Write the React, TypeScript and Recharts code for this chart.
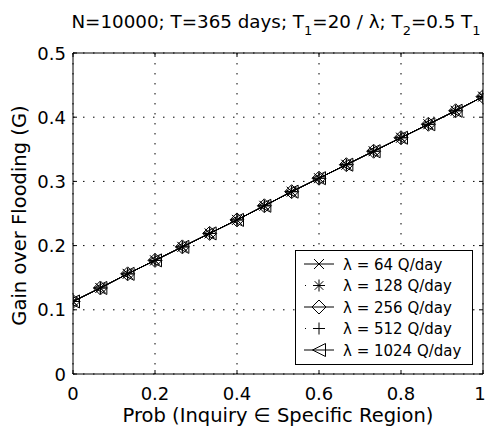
import React from 'react';
import { LineChart, Line, XAxis, YAxis, CartesianGrid, Legend } from 'recharts';

// ---- data ----
const probValues = [0, 0.0667, 0.1333, 0.2, 0.2667, 0.3333, 0.4, 0.4667, 0.5333, 0.6, 0.6667, 0.7333, 0.8, 0.8667, 0.9333, 1];
const gain64 = [0.113, 0.134, 0.156, 0.177, 0.198, 0.219, 0.240, 0.262, 0.284, 0.305, 0.326, 0.347, 0.368, 0.389, 0.410, 0.432];
const gain128 = [0.113, 0.134, 0.156, 0.177, 0.198, 0.219, 0.240, 0.262, 0.284, 0.305, 0.326, 0.347, 0.368, 0.389, 0.410, 0.432];
const gain256 = [0.113, 0.134, 0.156, 0.177, 0.198, 0.219, 0.240, 0.262, 0.284, 0.305, 0.326, 0.347, 0.368, 0.389, 0.410, 0.432];
const gain512 = [0.113, 0.134, 0.156, 0.177, 0.198, 0.219, 0.240, 0.262, 0.284, 0.305, 0.326, 0.347, 0.368, 0.389, 0.410, 0.432];
const gain1024 = [0.113, 0.134, 0.156, 0.177, 0.198, 0.219, 0.240, 0.262, 0.284, 0.305, 0.326, 0.347, 0.368, 0.389, 0.410, 0.432];

const seriesNames = ['λ = 64 Q/day', 'λ = 128 Q/day', 'λ = 256 Q/day', 'λ = 512 Q/day', 'λ = 1024 Q/day'];
const seriesKeys = ['g64', 'g128', 'g256', 'g512', 'g1024'];
const seriesMarkers = ['x', 'star', 'diamond', 'plus', 'tri'];
const seriesDotted = [false, true, false, true, false];

const xTicks = [0, 0.2, 0.4, 0.6, 0.8, 1];
const xTickLabels = ['0', '0.2', '0.4', '0.6', '0.8', '1'];
const yTicks = [0, 0.1, 0.2, 0.3, 0.4, 0.5];
const yTickLabels = ['0', '0.1', '0.2', '0.3', '0.4', '0.5'];

const xLabel = 'Prob (Inquiry \u2208 Specific Region)';
const yLabel = 'Gain over Flooding (G)';

const data = probValues.map((p, i) => ({
  p,
  g64: gain64[i],
  g128: gain128[i],
  g256: gain256[i],
  g512: gain512[i],
  g1024: gain1024[i],
}));

const FONT = '"DejaVu Sans", "Liberation Sans", Arial, sans-serif';

function Marker({ shape, cx, cy }: { shape: string; cx: number; cy: number }) {
  const st = { stroke: '#000', strokeWidth: 1, fill: 'none' } as any;
  if (cx == null || cy == null) return null;
  switch (shape) {
    case 'x':
      return (
        <g {...st}>
          <line x1={cx - 5} y1={cy - 5} x2={cx + 5} y2={cy + 5} />
          <line x1={cx - 5} y1={cy + 5} x2={cx + 5} y2={cy - 5} />
        </g>
      );
    case 'star':
      return (
        <g {...st}>
          <line x1={cx - 6} y1={cy} x2={cx + 6} y2={cy} />
          <line x1={cx} y1={cy - 6} x2={cx} y2={cy + 6} />
          <line x1={cx - 4.3} y1={cy - 4.3} x2={cx + 4.3} y2={cy + 4.3} />
          <line x1={cx - 4.3} y1={cy + 4.3} x2={cx + 4.3} y2={cy - 4.3} />
        </g>
      );
    case 'diamond':
      return <polygon {...st} points={`${cx},${cy - 7} ${cx + 7},${cy} ${cx},${cy + 7} ${cx - 7},${cy}`} />;
    case 'plus':
      return (
        <g {...st}>
          <line x1={cx - 6} y1={cy} x2={cx + 6} y2={cy} />
          <line x1={cx} y1={cy - 6} x2={cx} y2={cy + 6} />
        </g>
      );
    case 'tri':
      return <polygon {...st} points={`${cx - 6.5},${cy} ${cx + 6.5},${cy - 6.5} ${cx + 6.5},${cy + 6.5}`} />;
    default:
      return null;
  }
}

const BottomTick = (props: any) => {
  const { x, y, payload, index } = props;
  const idx = xTicks.indexOf(payload.value);
  const label = xTickLabels[idx >= 0 ? idx : index];
  const last = idx === xTicks.length - 1;
  return (
    <g>
      <line x1={x} y1={y} x2={x} y2={y - 4} stroke="#000" />
      <text x={last ? x - 3 : x} y={y + 26} textAnchor="middle" fontFamily={FONT} fontSize={18} fill="#000">
        {label}
      </text>
    </g>
  );
};

const TopTick = (props: any) => {
  const { x, y } = props;
  return <line x1={x} y1={y} x2={x} y2={y + 4} stroke="#000" />;
};

const LeftTick = (props: any) => {
  const { x, y, payload, index } = props;
  const idx = yTicks.indexOf(payload.value);
  const label = yTickLabels[idx >= 0 ? idx : index];
  return (
    <g>
      <line x1={x} y1={y} x2={x + 4} y2={y} stroke="#000" />
      <text x={x - 7} y={y + 6.5} textAnchor="end" fontFamily={FONT} fontSize={18} fill="#000">
        {label}
      </text>
    </g>
  );
};

const RightTick = (props: any) => {
  const { x, y } = props;
  return <line x1={x} y1={y} x2={x - 4} y2={y} stroke="#000" />;
};

const TitleContent = (props: any) => {
  const vb = props.viewBox || { x: 73, y: 52, width: 410, height: 1 };
  const cx = vb.x + vb.width / 2 - 2;
  return (
    <text x={cx} y={28} textAnchor="middle" fontFamily={FONT} fontSize={18.3} fill="#000">
      <tspan>N=10000; T=365 days; T</tspan>
      <tspan fontSize={13} dy={7}>1</tspan>
      <tspan dy={-7}>=20 / λ; T</tspan>
      <tspan fontSize={13} dy={7}>2</tspan>
      <tspan dy={-7}>=0.5 T</tspan>
      <tspan fontSize={13} dy={7}>1</tspan>
    </text>
  );
};

const XLabelContent = (props: any) => {
  const vb = props.viewBox || { x: 73, y: 374, width: 410 };
  return (
    <text x={vb.x + vb.width / 2} y={vb.y + 48} textAnchor="middle" fontFamily={FONT} fontSize={19.5} fill="#000">
      {xLabel}
    </text>
  );
};

const YLabelContent = (props: any) => {
  const vb = props.viewBox || { x: 0, y: 53, height: 321 };
  const cy = vb.y + vb.height / 2 + 2;
  return (
    <text
      x={26}
      y={cy}
      transform={`rotate(-90, 26, ${cy})`}
      textAnchor="middle"
      fontFamily={FONT}
      fontSize={19.5}
      fill="#000"
    >
      {yLabel}
    </text>
  );
};

const LegendBox = () => {
  const rowY = [14, 35.5, 57, 78.5, 100];
  return (
    <svg width={178} height={115} style={{ display: 'block', overflow: 'visible' }}>
      <rect x={0.5} y={0.5} width={177} height={114} fill="#fff" stroke="#000" strokeWidth={1} />
      {seriesNames.map((name, i) => (
        <g key={name}>
          {seriesDotted[i] ? (
            <line x1={10} y1={rowY[i]} x2={11} y2={rowY[i]} stroke="#000" strokeWidth={1} />
          ) : (
            <line x1={9} y1={rowY[i]} x2={39} y2={rowY[i]} stroke="#000" strokeWidth={1} />
          )}
          <Marker shape={seriesMarkers[i]} cx={24} cy={rowY[i]} />
          <text x={48} y={rowY[i] + 5.5} fontFamily={FONT} fontSize={15} fill="#000">
            {name}
          </text>
        </g>
      ))}
    </svg>
  );
};

export default function App() {
  return (
    <div style={{ position: 'absolute', left: 0, top: 0, width: 486, height: 431, background: '#fff' }}>
      <LineChart width={486} height={431} data={data} margin={{ top: 52, right: 2, bottom: 0, left: 0 }}>
        <CartesianGrid stroke="#000" strokeDasharray="1.5 8.5" strokeWidth={1} />
        <XAxis
          dataKey="p"
          type="number"
          domain={[0, 1]}
          ticks={xTicks}
          interval={0}
          height={57}
          tickSize={0}
          tickMargin={0}
          tick={BottomTick}
          axisLine={{ stroke: '#000' }}
          allowDataOverflow
          label={{ content: XLabelContent } as any}
        />
        <XAxis
          xAxisId="top"
          dataKey="p"
          orientation="top"
          type="number"
          domain={[0, 1]}
          ticks={xTicks}
          interval={0}
          height={1}
          tickSize={0}
          tickMargin={0}
          tick={TopTick}
          axisLine={{ stroke: '#000' }}
          allowDataOverflow
          label={{ content: TitleContent } as any}
        />
        <YAxis
          type="number"
          domain={[0, 0.5]}
          ticks={yTicks}
          interval={0}
          width={73}
          tickSize={0}
          tickMargin={0}
          tick={LeftTick}
          axisLine={{ stroke: '#000' }}
          allowDataOverflow
          label={{ content: YLabelContent } as any}
        />
        <YAxis
          yAxisId="right"
          orientation="right"
          type="number"
          domain={[0, 0.5]}
          ticks={yTicks}
          interval={0}
          width={1}
          tickSize={0}
          tickMargin={0}
          tick={RightTick}
          axisLine={{ stroke: '#000' }}
          allowDataOverflow
        />
        {seriesKeys.map((k, i) => {
          const onAlt = i === seriesKeys.length - 1;
          return (
            <Line
              key={k}
              dataKey={k}
              name={seriesNames[i]}
              xAxisId={onAlt ? 'top' : 0}
              yAxisId={onAlt ? 'right' : 0}
              stroke="#000"
              strokeWidth={1}
              isAnimationActive={false}
              activeDot={false}
              dot={(p: any) => <Marker key={`${k}-${p.index}`} shape={seriesMarkers[i]} cx={p.cx} cy={p.cy} />}
            />
          );
        })}
        <Legend
          layout="vertical"
          align="center"
          verticalAlign="middle"
          wrapperStyle={{ position: 'absolute', left: 295, top: 250, width: 178, height: 115 }}
          content={() => <LegendBox />}
        />
      </LineChart>
    </div>
  );
}
